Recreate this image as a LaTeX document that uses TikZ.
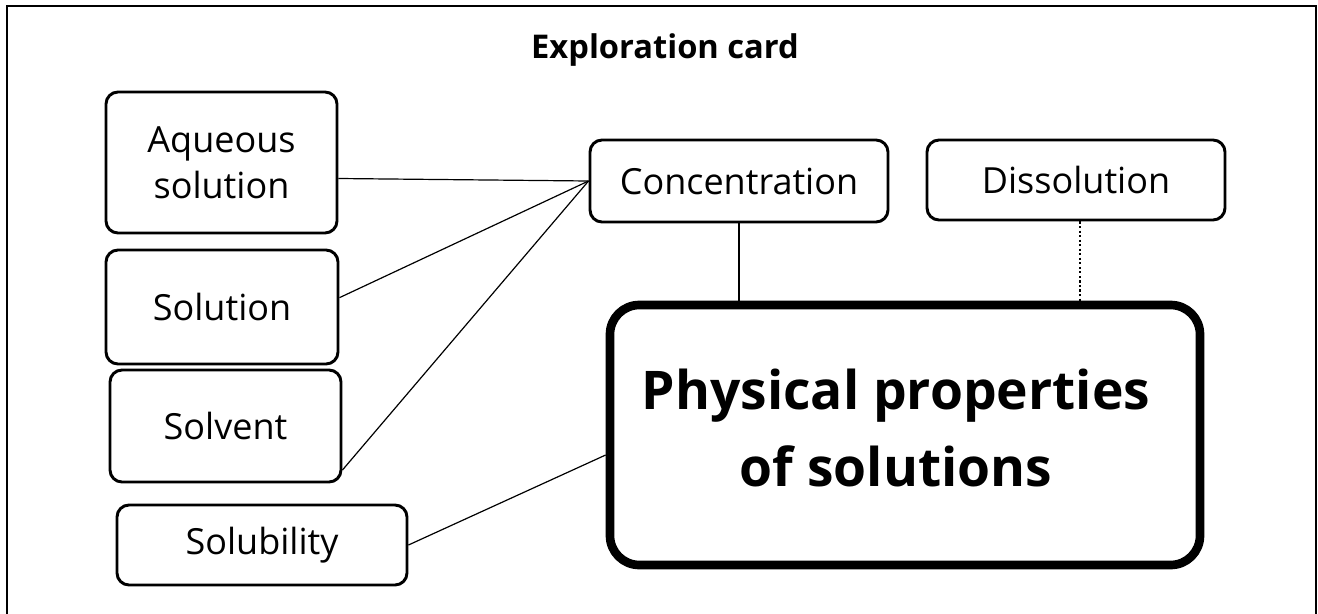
\documentclass[tikz,border=0pt]{standalone}
\usepackage{fontspec}
\setmainfont{Open Sans}
\usetikzlibrary{calc}
\begin{document}
\begin{tikzpicture}[x=0.75pt,y=-0.75pt,
  box/.style={draw,line width=2.2pt,rounded corners=9pt,inner sep=0pt,
    font=\fontsize{27}{34.5}\selectfont,align=center},
  link/.style={line width=0.9pt},
  dotlink/.style={line width=1.5pt,dash pattern=on 1.6pt off 1.8pt},
  mainbox/.style={draw,line width=6.5pt,rounded corners=22pt,inner sep=0pt,
    minimum width=442.5pt,minimum height=195pt},
  maintext/.style={font=\bfseries\fontsize{40}{58}\selectfont,align=center}]
\useasboundingbox (0,0) rectangle (1318,614);
\fill[white] (0,0) rectangle (1318,614);
\draw[line width=1.6pt] (7,630) -- (7,6) -- (1316,6) -- (1316,630);
\node[font=\bfseries\fontsize{24.5}{28}\selectfont] (title) at (665,50) {Exploration card};
\node[box,minimum width=173.25pt,minimum height=105.75pt] (aq) at (221.5,162.5) {Aqueous\\solution};
\node[box,minimum width=174pt,minimum height=85.5pt] (sol) at (222,307) {Solution};
\node[box,minimum width=173.25pt,minimum height=84pt] (solv) at (225.5,426) {Solvent};
\node[box,minimum width=217.5pt,minimum height=60pt] (solub) at (262,545) {Solubility};
\node[box,minimum width=223.5pt,minimum height=61.5pt] (conc) at (739,181) {Concentration};
\node[box,minimum width=223.5pt,minimum height=60pt] (diss) at (1076,180) {Dissolution};
\node[mainbox] (main) at (905,435) {};
\node[maintext] (mainlabel) at (896,428) {Physical properties\\of solutions};
\draw[link] ([yshift=-12pt]aq.east) -- (conc.west);
\draw[link] ([yshift=7pt]sol.east) -- (conc.west);
\draw[link] ([yshift=-33pt]solv.east) -- (conc.west);
\draw[link] (solub.east) -- ([yshift=-15pt]main.west);
\draw[link] (conc.south) -- (conc.south |- main.north);
\draw[dotlink] ([xshift=3pt]diss.south) -- ([xshift=3pt]diss.south |- main.north);
\end{tikzpicture}
\end{document}
